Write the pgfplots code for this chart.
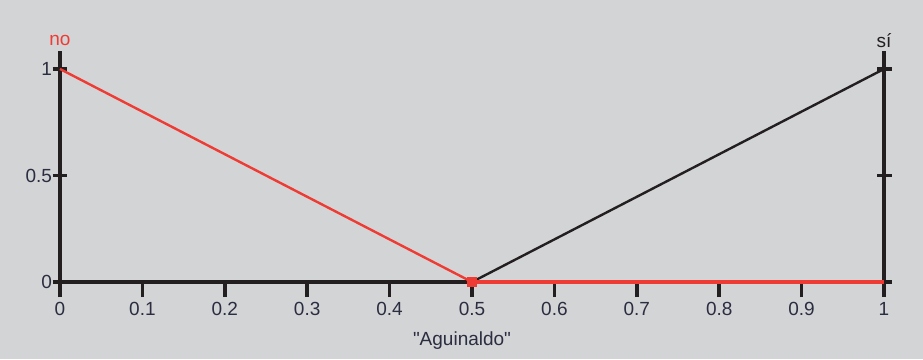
\documentclass[border=0pt]{standalone}
\usepackage{pgfplots}
\pgfplotsset{compat=1.18}
\usepackage{fontspec}
\setmainfont{Liberation Sans}
\definecolor{bg}{HTML}{D3D4D6}
\definecolor{rd}{HTML}{EE3B33}
\definecolor{bk}{HTML}{231F20}
\definecolor{tx}{HTML}{2B2D40}
\begin{document}
\begin{tikzpicture}
\fill[bg] (-60pt,-77pt) rectangle (863pt,282pt);
\begin{axis}[
  at={(0pt,0pt)}, anchor=origin,
  x=824pt, y=213pt,
  xmin=0, xmax=1, ymin=0, ymax=1,
  clip=false,
  axis line style={draw=none},
  xtick={0,0.1,0.2,0.3,0.4,0.5,0.6,0.7,0.8,0.9,1},
  xticklabels={0,0.1,0.2,0.3,0.4,0.5,0.6,0.7,0.8,0.9,1},
  ytick={0,0.5,1},
  yticklabels={0,0.5,1},
  xtick pos=left,
  ytick pos=both,
  yticklabel pos=left,
  xtick align=outside,
  ytick align=center,
  major tick length=15pt,
  tick style={line width=3.5pt, draw=bk},
  ticklabel style={font=\fontsize{19}{21}\selectfont, text=tx},
  /pgf/number format/assume math mode=true,
  xlabel={\textquotedbl Aguinaldo\textquotedbl},
  xlabel style={font=\fontsize{19}{21}\selectfont, text=tx, yshift=-9pt, xshift=-10pt},
  xticklabel style={yshift=-2pt},
  yticklabel style={xshift=3pt},
]
% axis lines
\draw[bk, line width=4pt] (axis cs:0,-0.066) -- (axis cs:0,1.085);
\draw[bk, line width=4pt] (axis cs:1,-0.066) -- (axis cs:1,1.085);
\draw[bk, line width=4pt] (axis cs:0,0) -- (axis cs:1,0);
% data
\addplot[rd, line width=2.4pt, no markers] coordinates {(0,1) (0.5,0)};
\addplot[bk, line width=2.4pt, no markers] coordinates {(0.5,0) (1,1)};
\addplot[rd, line width=4pt, no markers] coordinates {(0.5,0) (1,0)};
\addplot[rd, only marks, mark=square*, mark size=4.5pt] coordinates {(0.5,0)};
\node[text=rd, font=\fontsize{19}{21}\selectfont] at (axis cs:0,1.135) {no};
\node[text=bk, font=\fontsize{19}{21}\selectfont] at (axis cs:1,1.135) {sí};
\end{axis}
\end{tikzpicture}
\end{document}
